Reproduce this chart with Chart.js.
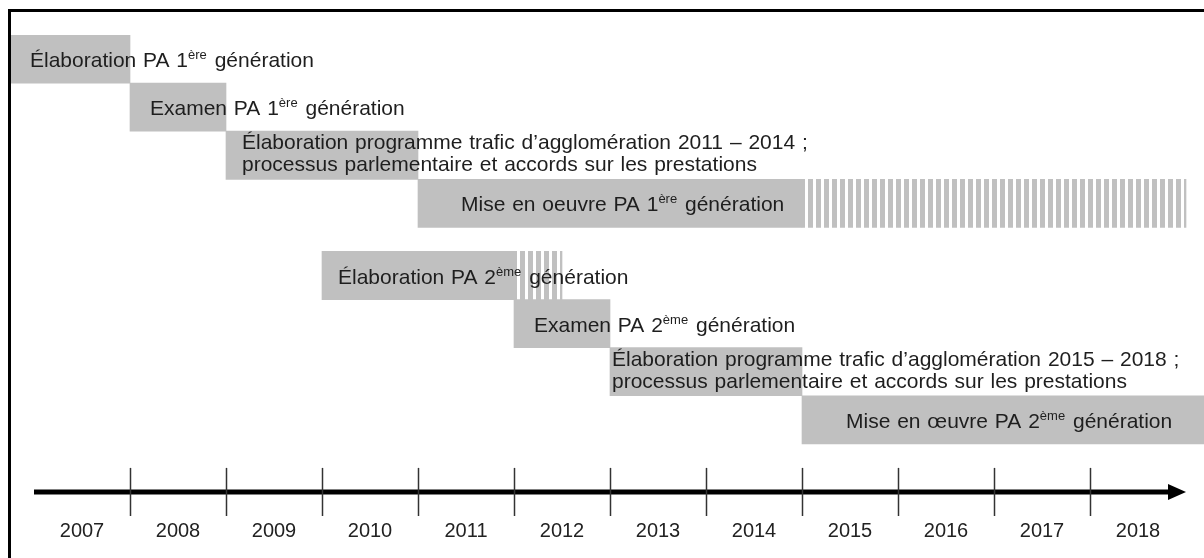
<!DOCTYPE html>
<html>
<head>
<meta charset="utf-8">
<script src="https://cdn.jsdelivr.net/npm/chart.js@4"></script>
<style>
  html, body { margin: 0; padding: 0; background: #fff; }
  #cont { width: 1204px; height: 558px; }
</style>
</head>
<body>
<div id="cont"><canvas id="grafica"></canvas></div>
<script>
// filas del calendario (posicion vertical en unidades de fila)
const filas = [0, 1, 2, 3, 4.5, 5.5, 6.5, 7.5];
const inicio = [2006.5, 2008, 2009, 2011, 2010, 2012, 2013, 2015];
const fin = [2008, 2009, 2011, 2015, 2012, 2013, 2015, 2019.5];
// tramos rayados (continuacion)
const filasRayadas = [3, 4.5];
const inicioRayado = [2015, 2012];
const finRayado = [2019, 2012.5];

const textos = [
    ['Élaboration PA 1{ère} génération'],
    ['Examen PA 1{ère} génération'],
    ['Élaboration programme trafic d’agglomération 2011 – 2014 ;', 'processus parlementaire et accords sur les prestations'],
    ['Mise en oeuvre PA 1{ère} génération'],
    ['Élaboration PA 2{ème} génération'],
    ['Examen PA 2{ème} génération'],
    ['Élaboration programme trafic d’agglomération 2015 – 2018 ;', 'processus parlementaire et accords sur les prestations'],
    ['Mise en œuvre PA 2{ème} génération']
];

const anios = ['2007', '2008', '2009', '2010', '2011', '2012', '2013', '2014', '2015', '2016', '2017', '2018'];
const primerAnio = 2007;
const filaEje = 9;

// separacion del texto respecto al inicio visible de la barra (px)
const margenTexto = [20, 20, 16, 43, 16, 20, 2, 44];

const GRIS = '#c0c0c0';
const FUENTE = '"Liberation Sans", Arial, sans-serif';

function rayado() {
    const c = document.createElement('canvas');
    c.width = 8; c.height = 8;
    const g = c.getContext('2d');
    g.fillStyle = GRIS;
    g.fillRect(0, 0, 5, 8);
    return g.createPattern(c, 'repeat');
}

function dibujarLinea(ctx, linea, x, y) {
    const partes = linea.split(/(\{[^}]*\})/);
    partes.forEach(p => {
        if (!p) return;
        if (p[0] === '{') {
            const s = p.slice(1, -1);
            ctx.font = '13px ' + FUENTE;
            ctx.fillText(s, x, y - 8);
            x += ctx.measureText(s).width + 1;
        } else {
            ctx.font = '21px ' + FUENTE;
            ctx.fillText(p, x, y);
            x += ctx.measureText(p).width;
        }
    });
}

const pluginCalendario = {
    id: 'calendario',
    afterDatasetsDraw(chart) {
        const ctx = chart.ctx;
        const xs = chart.scales.x;
        const ys = chart.scales.y;
        const area = chart.chartArea;
        ctx.save();
        ctx.fillStyle = '#1e1e1e';
        ctx.textBaseline = 'alphabetic';
        ctx.wordSpacing = '1px';
        textos.forEach((lineas, i) => {
            const x0 = Math.max(area.left, xs.getPixelForValue(inicio[i])) + margenTexto[i];
            const yc = ys.getPixelForValue(filas[i]);
            if (lineas.length === 1) {
                dibujarLinea(ctx, lineas[0], x0, yc + 8);
            } else {
                dibujarLinea(ctx, lineas[0], x0, yc - 6);
                dibujarLinea(ctx, lineas[1], x0, yc + 16);
            }
        });
        ctx.wordSpacing = '0px';

        // eje del tiempo con flecha
        const yEje = ys.getPixelForValue(filaEje);
        const xIni = xs.getPixelForValue(primerAnio);
        const xFin = xs.getPixelForValue(primerAnio + anios.length);
        ctx.strokeStyle = '#000';
        ctx.lineWidth = 5;
        ctx.beginPath();
        ctx.moveTo(xIni, yEje);
        ctx.lineTo(xFin - 14, yEje);
        ctx.stroke();
        ctx.fillStyle = '#000';
        ctx.beginPath();
        ctx.moveTo(xFin, yEje);
        ctx.lineTo(xFin - 18, yEje - 8);
        ctx.lineTo(xFin - 18, yEje + 8);
        ctx.closePath();
        ctx.fill();

        ctx.strokeStyle = '#333';
        ctx.lineWidth = 1.5;
        const medio = (ys.getPixelForValue(filaEje + 0.5) - yEje);
        for (let k = 1; k < anios.length; k++) {
            const xp = Math.round(xs.getPixelForValue(primerAnio + k)) + 0.5;
            ctx.beginPath();
            ctx.moveTo(xp, yEje - medio);
            ctx.lineTo(xp, yEje + medio);
            ctx.stroke();
        }

        // marco
        ctx.fillStyle = '#000';
        ctx.fillRect(8, 9, 3, chart.height - 9);
        ctx.fillRect(8, 9, chart.width - 8, 3);
        ctx.restore();
    }
};

new Chart(document.querySelector('#grafica'), {
    type: 'bar',
    data: {
        datasets: [
            {
                data: filas.map((f, i) => ({ x: [inicio[i], fin[i]], y: f })),
                backgroundColor: GRIS,
                borderWidth: 0,
                grouped: false,
                barPercentage: 1,
                categoryPercentage: 1
            },
            {
                data: filasRayadas.map((f, i) => ({ x: [inicioRayado[i], finRayado[i]], y: f })),
                backgroundColor: rayado(),
                borderWidth: 0,
                grouped: false,
                barPercentage: 1,
                categoryPercentage: 1
            }
        ]
    },
    options: {
        indexAxis: 'y',
        responsive: true,
        maintainAspectRatio: false,
        animation: false,
        layout: { padding: { left: 10, right: 0, top: 35, bottom: 12 } },
        plugins: { legend: { display: false }, tooltip: { enabled: false } },
        scales: {
            x: {
                type: 'linear',
                position: 'bottom',
                min: 2006.75,
                max: 2019.1875,
                grid: { display: false, drawTicks: false },
                border: { display: false },
                afterBuildTicks: axis => {
                    axis.ticks = anios.map((a, i) => ({ value: primerAnio + i + 0.5 }));
                },
                ticks: {
                    autoSkip: false,
                    maxRotation: 0,
                    padding: 3,
                    color: '#222',
                    font: { family: FUENTE, size: 20 },
                    callback: (v, i) => anios[i]
                }
            },
            y: {
                type: 'linear',
                display: false,
                reverse: true,
                offset: false,
                min: -0.5,
                max: 9.5,
                ticks: { stepSize: 1, includeBounds: false }
            }
        }
    },
    plugins: [pluginCalendario]
});
</script>
</body>
</html>
